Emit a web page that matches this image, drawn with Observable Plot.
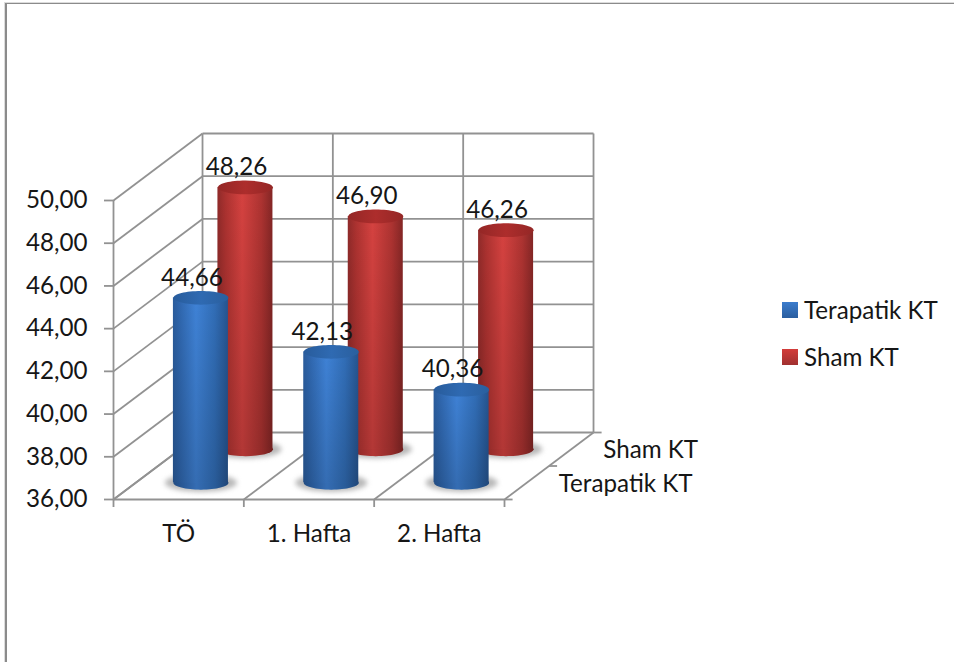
<!DOCTYPE html>
<html lang="tr">
<head>
<meta charset="utf-8">
<script src="https://cdn.jsdelivr.net/npm/d3@7"></script>
<script src="https://cdn.jsdelivr.net/npm/@observablehq/plot@0.6"></script>
<style>
  html, body { margin: 0; padding: 0; width: 954px; height: 662px; overflow: hidden; background: #fff; }
  #chart { position: absolute; left: 0; top: 0; }
  #frame { position: absolute; left: 5px; top: 3px; width: 1000px; height: 800px; box-sizing: border-box;
           border-left: 2px solid #8b8b8b; border-top: 1px solid #8b8b8b; box-shadow: -1px -1px 0 #dcdcdc; }
  #legend { position: absolute; left: 782px; top: 286px; font: 24.2px Lato, sans-serif; color: #161616; }
  #legend div { display: flex; align-items: center; height: 47px; }
  #legend i { width: 16px; height: 16px; margin-right: 6px; display: block; }
</style>
</head>
<body>
<div id="frame"></div>
<div id="chart"></div>
<div id="legend"></div>
<script>
// Categories, series and axis values
const categories = ["TÖ", "1. Hafta", "2. Hafta"];
const seriesNames = ["Terapatik KT", "Sham KT"];
const terapatik = [44.66, 42.13, 40.36];
const sham = [48.26, 46.90, 46.26];
const valueTicks = [36, 38, 40, 42, 44, 46, 48, 50];
const yMin = 36;
const yMax = 50;

// Oblique projection: one full unit of depth shifts a point along both scales
const depthX = 0.683;
const depthY = 3.137;
const shift = (x, y, depth) => ({x: x + depth * depthX, y: y + depth * depthY});

// Cylinder footprint, in category units, and the position of each series in depth
const barWidth = 0.422;
const depthOf = [0.25, 0.75];

const cylinders = (values, s) => values.map((v, i) => {
  const d = depthOf[s];
  const base = shift(i + 0.5, yMin, d);
  return {
    label: v.toFixed(2).replace(".", ","),
    cx: base.x,
    x1: base.x - barWidth / 2,
    x2: base.x + barWidth / 2,
    floor: base.y,
    top: base.y + (v - yMin)
  };
});
const blue = cylinders(terapatik, 0);
const red = cylinders(sham, 1);

// Structural lines of the 3D box
const gridStroke = "#929292";
const gridWidth = 1.8;
const slots = d3.range(categories.length + 1);
const backWallH = valueTicks.map((v) => {
  const a = shift(0, v, 1), b = shift(categories.length, v, 1);
  return {x1: a.x, y1: a.y, x2: b.x, y2: b.y};
});
const backWallV = slots.map((i) => {
  const a = shift(i, yMin, 1), b = shift(i, yMax, 1);
  return {x1: a.x, y1: a.y, x2: b.x, y2: b.y};
});
const sideWall = valueTicks.map((v) => {
  const a = shift(0, v, 0), b = shift(0, v, 1);
  return {x1: a.x, y1: a.y, x2: b.x, y2: b.y};
});
const floorLines = slots.map((i) => {
  const a = shift(i, yMin, 0), b = shift(i, yMin, 1);
  return {x1: a.x, y1: a.y, x2: b.x, y2: b.y};
});
const depthTicks = [0, 0.5, 1].map((d) => {
  const a = shift(categories.length, yMin, d);
  return {x1: a.x, y1: a.y, x2: a.x + 0.062, y2: a.y};
});
const depthLabels = seriesNames.map((name, s) => ({name, ...shift(categories.length, yMin, depthOf[s])}));

const lines = (data) => Plot.link(data, {
  x1: "x1", y1: "y1", x2: "x2", y2: "y2", stroke: gridStroke, strokeWidth: gridWidth
});

// Flattened circle, so a dot can draw the end caps of a cylinder
const ellipse = {
  draw(context, size) {
    const rx = Math.sqrt(size / Math.PI), ry = rx * 0.25, k = 0.5523;
    context.moveTo(-rx, 0);
    context.bezierCurveTo(-rx, -ry * k, -rx * k, -ry, 0, -ry);
    context.bezierCurveTo(rx * k, -ry, rx, -ry * k, rx, 0);
    context.bezierCurveTo(rx, ry * k, rx * k, ry, 0, ry);
    context.bezierCurveTo(-rx * k, ry, -rx, ry * k, -rx, 0);
    context.closePath();
  }
};

const stops = (list) => list.map(([o, c]) => `<stop offset="${o}" stop-color="${c}"/>`).join("");
const defs = () => {
  const node = document.createElementNS("http://www.w3.org/2000/svg", "defs");
  node.innerHTML = `
    <linearGradient id="blueBody">${stops([[0, "#2a5c9c"], [0.14, "#3068b0"], [0.42, "#3f82d6"], [0.76, "#316db6"], [1, "#26548f"]])}</linearGradient>
    <linearGradient id="redBody">${stops([[0, "#8f2a29"], [0.15, "#ac3230"], [0.45, "#d54240"], [0.8, "#ad3331"], [1, "#842625"]])}</linearGradient>
    <linearGradient id="blueCap">${stops([[0, "#285c9c"], [0.5, "#2f6ab2"], [1, "#2a5f9e"]])}</linearGradient>
    <linearGradient id="redCap">${stops([[0, "#942726"], [0.5, "#ad2d2c"], [1, "#942726"]])}</linearGradient>
    <linearGradient id="fade" x1="0" y1="0" x2="0" y2="1">
      <stop offset="0" stop-color="#000" stop-opacity="0"/>
      <stop offset="1" stop-color="#000" stop-opacity="0.16"/>
    </linearGradient>`;
  return node;
};

const cylinderMarks = (rows, body, cap) => [
  Plot.dot(rows, {x: "cx", y: "floor", r: 36, symbol: ellipse, fill: "#888", fillOpacity: 0.6, imageFilter: "blur(2.5px)"}),
  Plot.dot(rows, {x: "cx", y: "floor", r: 27.5, symbol: ellipse, fill: `url(#${body})`}),
  Plot.dot(rows, {x: "cx", y: "floor", r: 27.5, symbol: ellipse, fill: "#000", fillOpacity: 0.16}),
  Plot.rect(rows, {x1: "x1", x2: "x2", y1: "floor", y2: "top", fill: `url(#${body})`}),
  Plot.rect(rows, {x1: "x1", x2: "x2", y1: "floor", y2: "top", fill: "url(#fade)"}),
  Plot.dot(rows, {x: "cx", y: "top", r: 27.5, symbol: ellipse, fill: `url(#${cap})`})
];

const valueLabels = (rows) => Plot.text(rows, {
  x: "cx", y: "top", text: "label", dx: -9, dy: -20, fill: "#161616"
});

const chart = Plot.plot({
  width: 954,
  height: 662,
  marginLeft: 113,
  marginRight: 450,
  marginTop: 200,
  marginBottom: 163,
  style: {fontFamily: "Lato, sans-serif", fontSize: "24.2px", background: "transparent", overflow: "visible"},
  x: {type: "linear", domain: [0, categories.length]},
  y: {domain: [yMin, yMax]},
  marks: [
    defs,
    lines(backWallH),
    lines(backWallV),
    lines(sideWall),
    lines(floorLines),
    lines(depthTicks),
    Plot.ruleX([0], {y1: yMin, y2: yMax, stroke: gridStroke, strokeWidth: gridWidth}),
    Plot.ruleY([yMin], {x1: 0, x2: categories.length, stroke: gridStroke, strokeWidth: gridWidth}),
    Plot.axisY({
      ticks: valueTicks, tickSize: 9, tickPadding: 17, label: null, stroke: gridStroke, strokeWidth: gridWidth,
      color: "#161616", tickFormat: (d) => d.toFixed(2).replace(".", ",")
    }),
    Plot.axisX({
      ticks: slots, tickSize: 8, tickFormat: () => "", label: null, stroke: gridStroke, strokeWidth: gridWidth
    }),
    Plot.text(categories, {x: (d, i) => i + 0.5, y: () => yMin, text: (d) => d, dy: 35, fill: "#161616"}),
    Plot.text(depthLabels, {x: "x", y: "y", text: "name", textAnchor: "start", dx: 32, dy: 1, fill: "#161616"}),
    ...cylinderMarks(red, "redBody", "redCap"),
    ...cylinderMarks(blue, "blueBody", "blueCap"),
    valueLabels(red),
    valueLabels(blue)
  ]
});
document.getElementById("chart").append(chart);

// Series key at the right of the chart
const swatches = ["linear-gradient(#3b7ccd,#2a5e9f)", "linear-gradient(#d33c3a,#a03030)"];
d3.select("#legend").selectAll("div").data(seriesNames).join("div")
  .html((d, i) => `<i style="background:${swatches[i]}"></i><span>${d}</span>`);
</script>
</body>
</html>
